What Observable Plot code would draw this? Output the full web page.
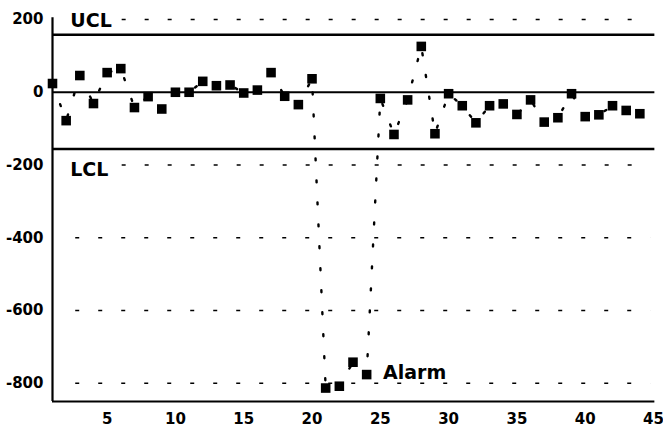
<!DOCTYPE html>
<html><head><meta charset="utf-8">
<script src="https://cdn.jsdelivr.net/npm/d3@7"></script>
<script src="https://cdn.jsdelivr.net/npm/@observablehq/plot@0.6"></script>
<style>body{margin:0;background:#fff}</style>
</head><body><div id="chart"></div>
<script>
const values = [24,-78,46,-31,54,65,-42,-12,-46,0,0,30,18,20,-2,6,54,-11,-34,37,-813,-808,-742,-776,-17,-116,-21,126,-114,-4,-37,-84,-37,-32,-61,-21,-82,-70,-4,-67,-62,-37,-50,-59];
const xTicks = [5,10,15,20,25,30,35,40,45];
const yTicks = [200,0,-200,-400,-600,-800];
const gridLevels = [200,-200,-400,-600,-800];
const UCL = 158, LCL = -156, center = 0;
const labels = [
  {text:"UCL", x:2.3, y:196},
  {text:"LCL", x:2.3, y:-214},
  {text:"Alarm", x:25.2, y:-772}
];
const data = values.map((v,i)=>({sample:i+1, value:v}));
const font = "DejaVu Sans";
const chart = Plot.plot({
  width:663, height:429,
  marginLeft:52, marginRight:10, marginTop:19, marginBottom:28,
  style:{fontFamily:font, fontWeight:"bold", fontSize:"15px", background:"#fff", color:"#000"},
  x:{domain:[1,45], ticks:xTicks, tickSize:0, tickPadding:12, label:null, tickFormat:d=>String(d)},
  y:{domain:[-850,200], ticks:yTicks, tickSize:0, tickPadding:9, label:null, tickFormat:d=>String(d)},
  marks:[
    Plot.ruleY(gridLevels, {y:d=>d, x1:d=>(d===200||d===-200)?6.1:2.7, x2:44.8, stroke:"#000", strokeWidth:1.5, strokeDasharray:"4,19"}),
    Plot.ruleY([UCL, center, LCL], {x1:1, x2:45.1, stroke:"#000", strokeWidth:d=>d===0?1.8:2.4}),
    Plot.ruleX([1], {y1:-850, y2:205, stroke:"#000", strokeWidth:2.2}),
    Plot.ruleY([-850], {x1:1, x2:45.1, stroke:"#000", strokeWidth:2.2}),
    Plot.line(data, {x:"sample", y:"value", stroke:"#000", strokeWidth:2.4, strokeDasharray:"2,20", strokeLinecap:"round"}),
    Plot.dot(data, {x:"sample", y:"value", symbol:"square", r:5.4, fill:"#000", stroke:"none"}),
    Plot.text(labels, {x:"x", y:"y", text:"text", textAnchor:"start", fontSize:19, fontWeight:"bold", fill:"#000"})
  ]
});
document.getElementById("chart").appendChild(chart);
</script>
</body></html>
